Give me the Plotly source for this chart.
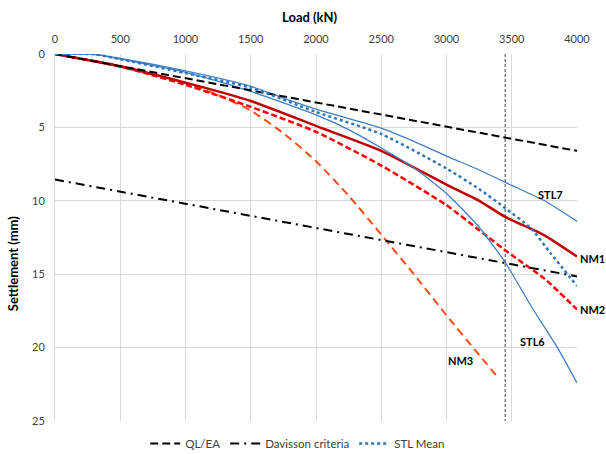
import plotly.graph_objects as go

# ---- data ----
load_ref = [0, 4000]
ql_ea = [0, 6.6]
davisson = [8.55, 15.15]

stl7_load = [0, 300, 500, 1000, 1500, 1750, 2000, 2250, 2500, 2750, 3000, 3250, 3500, 3750, 4000]
stl7_set = [0, 0.02, 0.3, 1.15, 2.2, 3.0, 3.75, 4.4, 5.05, 5.95, 6.95, 7.9, 8.95, 10.0, 11.4]

stl6_load = [0, 300, 500, 1000, 1500, 2000, 2250, 2500, 2750, 3000, 3250, 3450, 3650, 3850, 4000]
stl6_set = [0, 0.02, 0.35, 1.25, 2.55, 4.15, 5.15, 6.4, 7.75, 9.5, 11.8, 14.2, 17.2, 20.0, 22.4]

mean_load = [0, 300, 500, 1000, 1500, 2000, 2500, 3000, 3250, 3450, 3650, 3800, 4000]
mean_set = [0, 0.02, 0.35, 1.3, 2.3, 3.95, 5.45, 7.8, 9.2, 10.5, 11.9, 13.6, 15.8]

nm1_load = [0, 500, 1000, 1500, 2000, 2500, 3000, 3250, 3450, 3750, 4000]
nm1_set = [0, 0.85, 1.95, 3.2, 4.9, 6.6, 8.9, 10.0, 11.1, 12.35, 13.8]

nm2_load = [0, 500, 1000, 1500, 2000, 2500, 3000, 3250, 3500, 3750, 4000]
nm2_set = [0, 0.85, 2.1, 3.6, 5.3, 7.6, 10.3, 12.0, 13.7, 15.3, 17.4]

nm3_load = [0, 500, 1000, 1250, 1500, 1750, 2000, 2250, 2500, 2750, 3000, 3250, 3400]
nm3_set = [0, 0.8, 2.0, 2.8, 3.85, 5.4, 7.3, 9.65, 12.3, 15.0, 17.8, 20.5, 22.1]

vline_load = [3450, 3450]
vline_set = [0, 25]

# in-plot labels (data coords; NM1/NM2 sit just outside the right edge)
labels = ["STL7", "NM1", "NM2", "STL6", "NM3"]
label_load = [3800, 4010, 4010, 3660, 3110]
label_set = [9.55, 13.9, 17.4, 19.6, 20.9]
label_anchor = ["center", "left", "left", "center", "center"]

x_ticks = list(range(0, 4001, 500))
y_ticks = list(range(0, 26, 5))

FONT = "Lato"
blue_thin = "#3f7fc4"
X0, X1 = 0, 4000
fig = go.Figure()

fig.add_trace(go.Scatter(x=vline_load, y=vline_set, mode="lines", showlegend=False,
                         line=dict(color="#808080", width=1.5, dash="3px,2px")))
fig.add_trace(go.Scatter(x=nm3_load, y=nm3_set, mode="lines", name="NM3", showlegend=False,
                         line=dict(color="#ff4a14", width=2, dash="8px,5px", shape="spline", smoothing=0.6)))
fig.add_trace(go.Scatter(x=nm2_load, y=nm2_set, mode="lines", name="NM2", showlegend=False,
                         line=dict(color="#ff0000", width=2.5, dash="6px,3px", shape="spline", smoothing=0.6)))
fig.add_trace(go.Scatter(x=nm1_load, y=nm1_set, mode="lines", name="NM1", showlegend=False,
                         line=dict(color="#c00000", width=2.5, shape="spline", smoothing=0.6)))
fig.add_trace(go.Scatter(x=stl6_load, y=stl6_set, mode="lines", name="STL6", showlegend=False,
                         line=dict(color=blue_thin, width=1.3, shape="spline", smoothing=0.6)))
fig.add_trace(go.Scatter(x=stl7_load, y=stl7_set, mode="lines", name="STL7", showlegend=False,
                         line=dict(color=blue_thin, width=1.3, shape="spline", smoothing=0.6)))
fig.add_trace(go.Scatter(x=load_ref, y=ql_ea, mode="lines", name="QL/EA",
                         line=dict(color="black", width=2, dash="8px,4px")))
fig.add_trace(go.Scatter(x=load_ref, y=davisson, mode="lines", name="Davisson criteria",
                         line=dict(color="black", width=2, dash="9px,5px,2px,5px")))
fig.add_trace(go.Scatter(x=mean_load, y=mean_set, mode="lines", name="STL Mean",
                         line=dict(color="#2e75b6", width=2.5, dash="dot", shape="spline", smoothing=0.6)))

for t, lx, ly, an in zip(labels, label_load, label_set, label_anchor):
    fig.add_annotation(x=(lx - X0) / (X1 - X0), xref="paper", y=ly, yref="y",
                       text="<b>%s</b>" % t, showarrow=False,
                       xanchor=an, yanchor="middle",
                       font=dict(family=FONT, size=11, color="black"))

# axis titles
fig.add_annotation(x=0.489, y=1.101, xref="paper", yref="paper", text="<b>Load (kN)</b>",
                   showarrow=False, xanchor="center", yanchor="middle",
                   font=dict(family=FONT, size=13, color="black"))
fig.add_annotation(x=-0.0805, y=0.43, xref="paper", yref="paper", text="<b>Settlement (mm)</b>",
                   showarrow=False, xanchor="center", yanchor="middle", textangle=-90,
                   font=dict(family=FONT, size=13, color="black"))

fig.update_layout(
    width=606, height=454,
    margin=dict(l=55, r=29, t=54, b=33, autoexpand=False),
    paper_bgcolor="white", plot_bgcolor="white",
    font=dict(family=FONT, size=11, color="#404040"),
    xaxis=dict(side="top", range=[X0, X1], tickvals=x_ticks, showgrid=True,
               gridcolor="#d9d9d9", gridwidth=1, zeroline=False, showline=False,
               ticks="", ticklabelstandoff=8,
               tickfont=dict(family=FONT, size=11, color="#404040")),
    yaxis=dict(range=[25, 0], tickvals=y_ticks, showgrid=True, gridcolor="#d9d9d9",
               zeroline=False, showline=True, linecolor="#d9d9d9", ticks="",
               ticklabelstandoff=7,
               tickfont=dict(family=FONT, size=11, color="#404040")),
    legend=dict(orientation="h", x=0.465, xanchor="center", y=-0.022, yanchor="top",
                font=dict(family=FONT, size=11.5, color="#404040"),
                bgcolor="rgba(0,0,0,0)"),
)

fig.write_html("out.html")
